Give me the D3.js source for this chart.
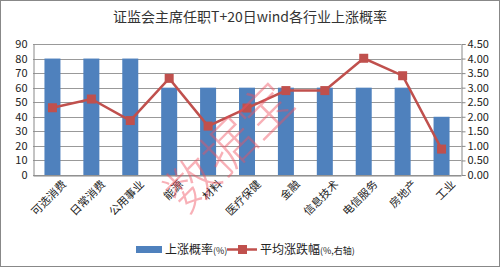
<!DOCTYPE html>
<html><head><meta charset="utf-8">
<script src="https://cdn.jsdelivr.net/npm/d3@7"></script>
<style>body{margin:0;background:#fff}svg{display:block;font-family:"Microsoft YaHei","Noto Sans CJK SC",sans-serif}</style>
</head><body>
<script>
const categories = ["可选消费","日常消费","公用事业","能源","材料","医疗保健","金融","信息技术","电信服务","房地产","工业"];
const upProb = [80,80,80,60,60,60,60,60,60,60,40];
const avgChange = [2.31,2.61,1.87,3.32,1.68,2.30,2.90,2.90,4.01,3.41,0.89];
const leftTicks = [0,10,20,30,40,50,60,70,80,90];
const rightTicks = [0,0.5,1,1.5,2,2.5,3,3.5,4,4.5];
const title = "证监会主席任职T+20日wind各行业上涨概率";
const legendLabels = ["上涨概率", "(%)", "平均涨跌幅", "(%,右轴)"];

const W = 500, H = 268;
const m = {l:33, r:39, t:44, b:93};
const svg = d3.select("body").append("svg").attr("width", W).attr("height", H);
svg.append("rect").attr("x",0.5).attr("y",0.5).attr("width",W-1).attr("height",H-2)
  .attr("fill","#fff").attr("stroke","#888");

const xc = d3.scaleBand().domain(categories).range([m.l, W-m.r]);
const yL = d3.scaleLinear().domain([0,90]).range([H-m.b, m.t]);
const yR = d3.scaleLinear().domain([0,4.5]).range([H-m.b, m.t]);

svg.append("text").attr("x",W/2).attr("y",22).attr("text-anchor","middle")
  .attr("font-size",14).attr("fill","#333").text(title);

// grid
svg.append("g").selectAll("line").data(leftTicks).join("line")
  .attr("x1",m.l).attr("x2",W-m.r).attr("y1",d=>Math.round(yL(d))+0.5).attr("y2",d=>Math.round(yL(d))+0.5)
  .attr("stroke","#999").attr("stroke-width",1);

// bars
svg.append("g").selectAll("rect").data(categories).join("rect")
  .attr("x",(d)=>xc(d)+xc.bandwidth()/2-8).attr("width",16)
  .attr("y",(d,i)=>yL(upProb[i])).attr("height",(d,i)=>yL(0)-yL(upProb[i]))
  .attr("fill","#4F81BD");

// axes
const gL = svg.append("g").attr("transform",`translate(${m.l+0.5},0)`)
  .call(d3.axisLeft(yL).tickValues(leftTicks).tickSize(0).tickPadding(6));
const gR = svg.append("g").attr("transform",`translate(${W-m.r+0.5},0)`)
  .call(d3.axisRight(yR).tickValues(rightTicks).tickFormat(d3.format(".2f")).tickSize(4).tickPadding(2));
const gB = svg.append("g").attr("transform",`translate(0,${Math.round(yL(0))+0.5})`)
  .call(d3.axisBottom(xc).tickSize(0).tickPadding(6));
[gL,gR,gB].forEach(g=>{
  g.select(".domain").attr("stroke","#888");
  g.selectAll(".tick line").attr("stroke","#888");
  g.selectAll("text").attr("fill","#222").attr("font-size",11).attr("font-family","Microsoft YaHei, Noto Sans CJK SC, sans-serif");
});
gB.selectAll("text").attr("text-anchor","end").attr("dy","0.3em")
  .attr("transform","translate(8,3) rotate(-45)");

// line
const pts = categories.map((c,i)=>[xc(c)+xc.bandwidth()/2, yR(avgChange[i])]);
svg.append("path").attr("d",d3.line()(pts)).attr("fill","none").attr("stroke","#C0504D").attr("stroke-width",2.5);
svg.append("g").selectAll("rect").data(pts).join("rect")
  .attr("x",d=>d[0]-4.5).attr("y",d=>d[1]-4.5).attr("width",9).attr("height",9).attr("fill","#C0504D");

// watermark
svg.append("text").attr("transform","translate(232,150) rotate(-45)").attr("text-anchor","middle")
  .attr("dominant-baseline","middle")
  .attr("font-size",52).attr("fill","rgba(240,80,95,0.45)").attr("font-weight","300").text("数据宝");

// legend
const ly = 249;
svg.append("rect").attr("x",136).attr("y",ly-3).attr("width",26).attr("height",7).attr("fill","#4F81BD");
const t1 = svg.append("text").attr("x",165).attr("y",ly+4.5).attr("fill","#222").attr("font-size",12);
t1.append("tspan").text(legendLabels[0]);
t1.append("tspan").attr("font-size",9).text(legendLabels[1]);
svg.append("line").attr("x1",227).attr("x2",257).attr("y1",ly+0.5).attr("y2",ly+0.5).attr("stroke","#C0504D").attr("stroke-width",2.5);
svg.append("rect").attr("x",238).attr("y",ly-4).attr("width",9).attr("height",9).attr("fill","#C0504D");
const t2 = svg.append("text").attr("x",260).attr("y",ly+4.5).attr("fill","#222").attr("font-size",12);
t2.append("tspan").text(legendLabels[2]);
t2.append("tspan").attr("font-size",9).text(legendLabels[3]);
</script>
</body></html>
